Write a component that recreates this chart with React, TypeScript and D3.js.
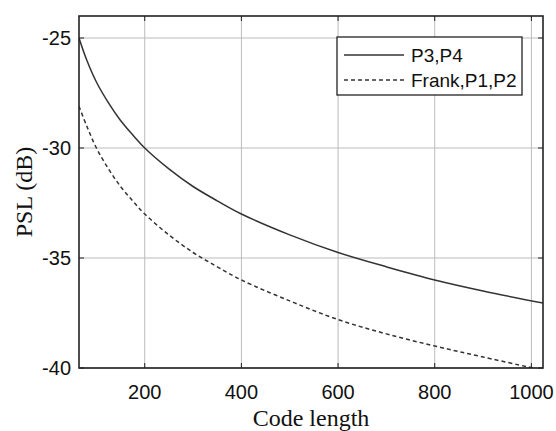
import React, { useEffect, useRef } from 'react';
import * as d3 from 'd3';

// code lengths sampled along the curves
const codeLengths = [64, 80, 100, 125, 150, 175, 200, 250, 300, 350, 400, 500, 600, 700, 800, 900, 1024];
// PSL (dB)
const p3p4 = [-25.0, -26.0, -27.0, -27.95, -28.75, -29.4, -30.0, -30.95, -31.75, -32.4, -33.0, -33.95, -34.75, -35.4, -36.0, -36.5, -37.05];
const frankP1P2 = [-28.1, -29.0, -30.0, -30.95, -31.75, -32.4, -33.0, -33.95, -34.75, -35.4, -36.0, -36.95, -37.8, -38.45, -39.0, -39.5, -40.1];
const xTicks = [200, 400, 600, 800, 1000];
const yTicks = [-25, -30, -35, -40];
const seriesNames = ['P3,P4', 'Frank,P1,P2'];

const App = () => {
    const svgRef = useRef<SVGSVGElement>(null);

    useEffect(() => {
        const svg = d3.select(svgRef.current);
        svg.selectAll('*').remove();

        const margin = { top: 16, right: 13, bottom: 63, left: 79 };
        const width = 556 - margin.left - margin.right;
        const height = 431 - margin.top - margin.bottom;

        const x = d3.scaleLinear().domain([64, 1024]).range([0, width]);
        const y = d3.scaleLinear().domain([-40, -24]).range([height, 0]);

        const g = svg.append('g').attr('transform', `translate(${margin.left},${margin.top})`);

        g.append('clipPath').attr('id', 'plot-clip')
            .append('rect').attr('width', width).attr('height', height);

        // grid
        g.selectAll('.xgrid').data(xTicks).enter().append('line')
            .attr('x1', d => x(d)).attr('x2', d => x(d))
            .attr('y1', 0).attr('y2', height)
            .attr('stroke', '#bbb').attr('stroke-width', 1);
        g.selectAll('.ygrid').data(yTicks).enter().append('line')
            .attr('y1', d => y(d)).attr('y2', d => y(d))
            .attr('x1', 0).attr('x2', width)
            .attr('stroke', '#bbb').attr('stroke-width', 1);

        // curves
        const line = d3.line<number>()
            .x((d, i) => x(codeLengths[i]))
            .y(d => y(d))
            .curve(d3.curveCatmullRom.alpha(0.5));

        g.append('path').datum(p3p4)
            .attr('d', line)
            .attr('fill', 'none').attr('stroke', '#333').attr('stroke-width', 1.5)
            .attr('clip-path', 'url(#plot-clip)');
        g.append('path').datum(frankP1P2)
            .attr('d', line)
            .attr('fill', 'none').attr('stroke', '#333').attr('stroke-width', 1.5)
            .attr('stroke-dasharray', '4,3')
            .attr('clip-path', 'url(#plot-clip)');

        // box
        g.append('rect').attr('width', width).attr('height', height)
            .attr('fill', 'none').attr('stroke', '#222').attr('stroke-width', 1.6);

        // inner ticks on all sides
        const tl = 5;
        xTicks.forEach(t => {
            g.append('line').attr('x1', x(t)).attr('x2', x(t)).attr('y1', height).attr('y2', height - tl).attr('stroke', '#222');
            g.append('line').attr('x1', x(t)).attr('x2', x(t)).attr('y1', 0).attr('y2', tl).attr('stroke', '#222');
        });
        yTicks.forEach(t => {
            g.append('line').attr('y1', y(t)).attr('y2', y(t)).attr('x1', 0).attr('x2', tl).attr('stroke', '#222');
            g.append('line').attr('y1', y(t)).attr('y2', y(t)).attr('x1', width).attr('x2', width - tl).attr('stroke', '#222');
        });

        // tick labels
        g.selectAll('.xlabel').data(xTicks).enter().append('text')
            .attr('x', d => x(d)).attr('y', height + 31)
            .attr('text-anchor', 'middle')
            .attr('font-family', 'Liberation Sans, Arial, sans-serif')
            .attr('font-size', 20).attr('fill', '#111')
            .text(d => d);
        g.selectAll('.ylabel').data(yTicks).enter().append('text')
            .attr('x', -8).attr('y', d => y(d)).attr('dy', '0.35em')
            .attr('text-anchor', 'end')
            .attr('font-family', 'Liberation Sans, Arial, sans-serif')
            .attr('font-size', 20).attr('fill', '#111')
            .text(d => d);

        // axis titles
        g.append('text')
            .attr('x', width / 2).attr('y', height + 58)
            .attr('text-anchor', 'middle')
            .attr('font-family', 'Liberation Serif, Times New Roman, serif')
            .attr('font-size', 24).attr('fill', '#111')
            .text('Code length');
        g.append('text')
            .attr('transform', `translate(${-47},${height / 2}) rotate(-90)`)
            .attr('text-anchor', 'middle')
            .attr('font-family', 'Liberation Serif, Times New Roman, serif')
            .attr('font-size', 24).attr('fill', '#111')
            .text('PSL (dB)');

        // legend
        const lg = g.append('g').attr('transform', `translate(${337 - margin.left},${37 - margin.top})`);
        lg.append('rect').attr('width', 185).attr('height', 58)
            .attr('fill', '#fff').attr('stroke', '#222').attr('stroke-width', 1.3);
        seriesNames.forEach((name, i) => {
            const ly = 18 + i * 25;
            lg.append('line').attr('x1', 7).attr('x2', 67).attr('y1', ly).attr('y2', ly)
                .attr('stroke', '#333').attr('stroke-width', 1.5)
                .attr('stroke-dasharray', i === 1 ? '4,3' : null);
            lg.append('text').attr('x', 74).attr('y', ly).attr('dy', '0.35em')
                .attr('font-family', 'Liberation Sans, Arial, sans-serif')
                .attr('font-size', 19).attr('fill', '#111')
                .text(name);
        });
    }, []);

    return (
        <svg ref={svgRef} width={556} height={431}
            style={{ position: 'absolute', top: 0, left: 0, background: '#fff' }} />
    );
};

export default App;
